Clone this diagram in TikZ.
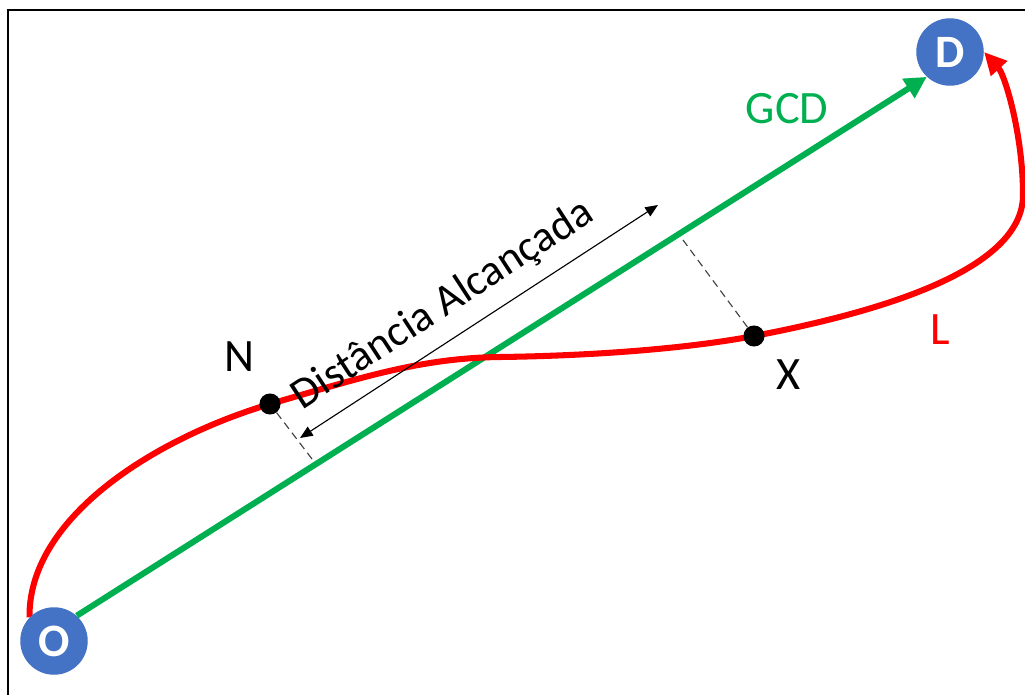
\documentclass[tikz,border=0pt]{standalone}
\usepackage{fontspec}
\setmainfont{Carlito}
\usetikzlibrary{arrows.meta, calc, positioning, backgrounds}
\definecolor{ofblue}{HTML}{4472C4}
\definecolor{gcdgreen}{HTML}{00B050}

\begin{document}
\begin{tikzpicture}[
    x=0.025cm, y=-0.025cm,
    endpt/.style ={circle, fill=ofblue, text=white, inner sep=0pt,
                   minimum size=48pt, font=\fontsize{33}{39}\selectfont\bfseries},
    waypt/.style ={circle, fill=black, inner sep=0pt, minimum size=15pt},
    lbl/.style   ={inner sep=0pt, font=\fontsize{33}{39}\selectfont},
    gcd/.style   ={-{Triangle[length=15.5pt, width=15.5pt]}, line width=4.3pt, gcdgreen},
    route/.style ={-{Triangle[length=16pt, width=15pt]}, line width=4.3pt, red},
    proj/.style  ={dash pattern=on 5.5pt off 3.5pt, line width=0.8pt, black!75},
    reach/.style ={{Triangle[length=9pt, width=7.5pt]}-{Triangle[length=9pt, width=7.5pt]},
                   line width=0.8pt},
]
\useasboundingbox (0,0) rectangle (1025,695);
\draw[line width=1.4pt] (8,695) -- (8,10) -- (1025,10);

\node[endpt] (O) at (54,641) {O};
\node[endpt] (D) at (950,52)  {D};
\node[waypt] (N) at (270,404) {};
\node[waypt] (X) at (754,336) {};

\node[lbl]                 (nlbl)   at (239,357) {N};
\node[lbl]                 (xlbl)   at (789,375) {X};
\node[lbl, text=gcdgreen]  (gcdlbl) at (787,109) {GCD};
\node[lbl, text=red]       (llbl)   at (940,330) {L};

\coordinate (nf) at (312,459);
\coordinate (xf) at (683,240);
\coordinate (da) at (300,438);
\coordinate (db) at (658,205);

\begin{scope}[on background layer]
\draw[gcd] (O.48) -- (D.227);
\draw[route] (O.136) .. controls (28,520) and (150,440) .. (N.center)
    .. controls (360,378) and (420,358) .. (500,357)
    .. controls (580,356) and (680,350) .. (X.center)
    .. controls (880,312) and (1023,270) .. (1023,195)
    .. controls (1023,135) and (1005,75) .. (D.east);
\draw[proj] (N) -- (nf);
\draw[proj] (X) -- (xf);
\draw[reach] (da) -- (db) node[pos=0.45, above=10pt, sloped, lbl,
    font=\fontsize{31}{37}\selectfont] {Distância Alcançada};
\end{scope}
\end{tikzpicture}
\end{document}
